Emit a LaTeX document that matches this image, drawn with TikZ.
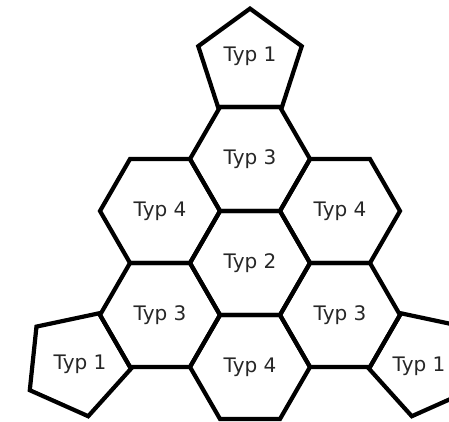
\documentclass[tikz,border=0pt]{standalone}
\usepackage{fontspec}
\setmainfont{DejaVu Sans}
\usetikzlibrary{shapes.geometric}

\tikzset{
  cell/.style={draw=black, line width=4.2pt, line join=miter, fill=none,
    regular polygon, inner sep=0pt, outer sep=0pt},
  hexcell/.style={cell, regular polygon sides=6, minimum size=120pt},
  pentcell/.style={cell, regular polygon sides=5, minimum size=108.8pt},
  tag/.style={font=\fontsize{20}{22}\selectfont, text=black!85, inner sep=0pt}
}

\begin{document}
\begin{tikzpicture}[x=1pt, y=-1pt]
  \useasboundingbox (0,0) rectangle (449,422);
  \clip (0,0) rectangle (449,422);

  % honeycomb of seven hexagons
  \node[hexcell, tag] (h3top)   at (250,159) {Typ 3};
  \node[hexcell, tag] (h4left)  at (160,211) {Typ 4};
  \node[hexcell, tag] (h4right) at (340,211) {Typ 4};
  \node[hexcell, tag] (h2)      at (250,263) {Typ 2};
  \node[hexcell, tag] (h3left)  at (160,315) {Typ 3};
  \node[hexcell, tag] (h3right) at (340,315) {Typ 3};
  \node[hexcell, tag] (h4bot)   at (250,367) {Typ 4};

  % pentagons resting on the outer edges
  \node[pentcell] (p1top)   at (250,63) {};
  \node[pentcell, shape border rotate=120] (p1left)  at (76.9,363) {};
  \node[pentcell, shape border rotate=240] (p1right) at (423.1,363) {};

  \node[tag] (t1top)   at (250,56)  {Typ 1};
  \node[tag] (t1left)  at (80,364)  {Typ 1};
  \node[tag] (t1right) at (419,366) {Typ 1};
\end{tikzpicture}
\end{document}
